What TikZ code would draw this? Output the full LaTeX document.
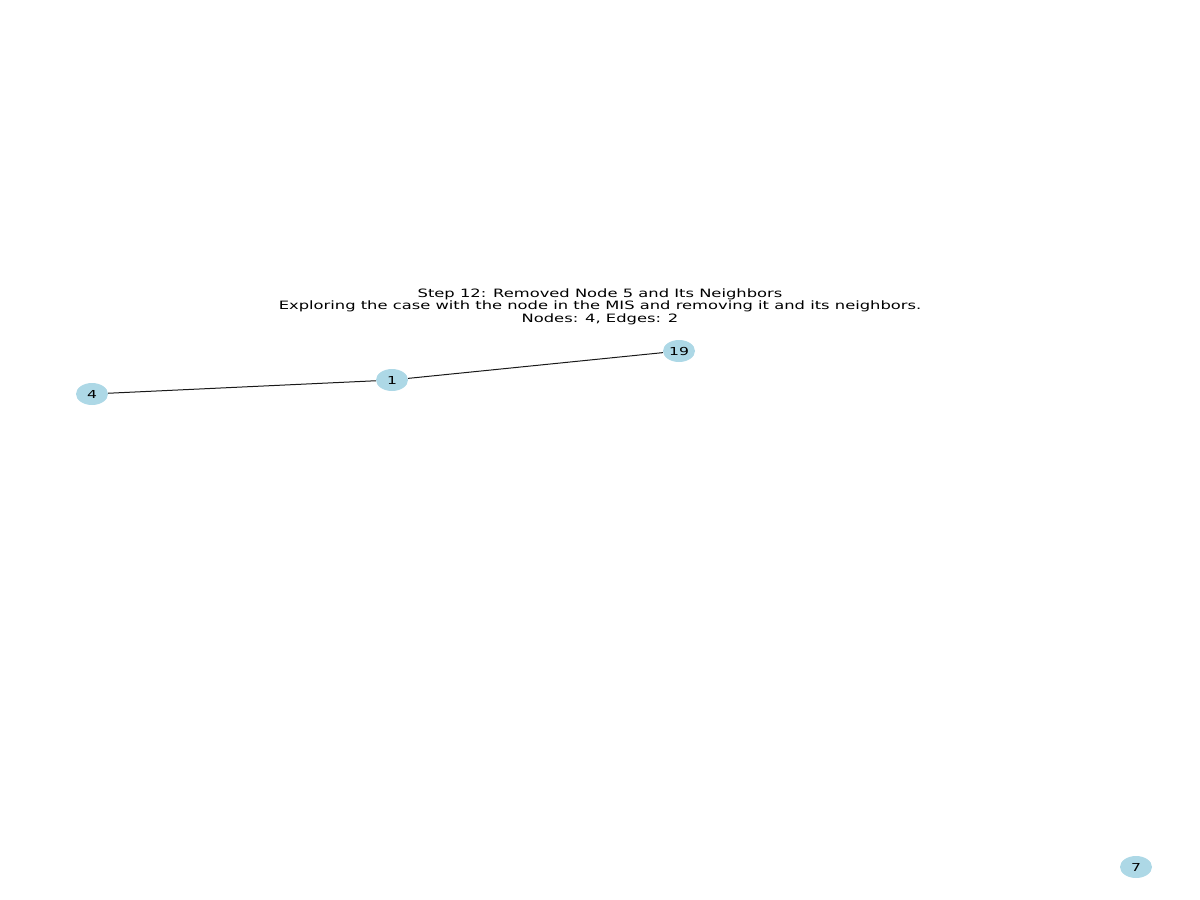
\documentclass[tikz,border=0pt]{standalone}
\usepackage{fontspec}
\setmainfont{DejaVu Sans}
\usetikzlibrary{shapes.geometric}
\definecolor{nodeblue}{RGB}{173,216,230}
% horizontally widened text, as the labels are set
\newcommand{\widetext}[1]{\scalebox{1.42}[1]{#1}}
\tikzset{
  vertex/.style={ellipse, fill=nodeblue, draw=none, minimum width=32pt, minimum height=22pt, inner sep=0pt, font=\fontsize{11}{12}\selectfont},
  link/.style={draw=black!90, line width=1pt},
  caption/.style={align=center, inner sep=0pt, font=\fontsize{11.5}{12.5}\selectfont}
}
\begin{document}
\begin{tikzpicture}[x=1pt,y=-1pt]
  \useasboundingbox (0,0) rectangle (1200,900);
  \node[caption] (title) at (600,307) {\widetext{\begin{tabular}{@{}c@{}}Step 12: Removed Node 5 and Its Neighbors\\Exploring the case with the node in the MIS and removing it and its neighbors.\\Nodes: 4, Edges: 2\end{tabular}}};
  \node[vertex] (n4) at (92,394) {\widetext{4}};
  \node[vertex] (n1) at (392,380) {\widetext{1}};
  \node[vertex] (n19) at (679,351) {\widetext{19}};
  \node[vertex] (n7) at (1136,867) {\widetext{7}};
  \draw[link] (n4) -- (n1);
  \draw[link] (n1) -- (n19);
\end{tikzpicture}
\end{document}
